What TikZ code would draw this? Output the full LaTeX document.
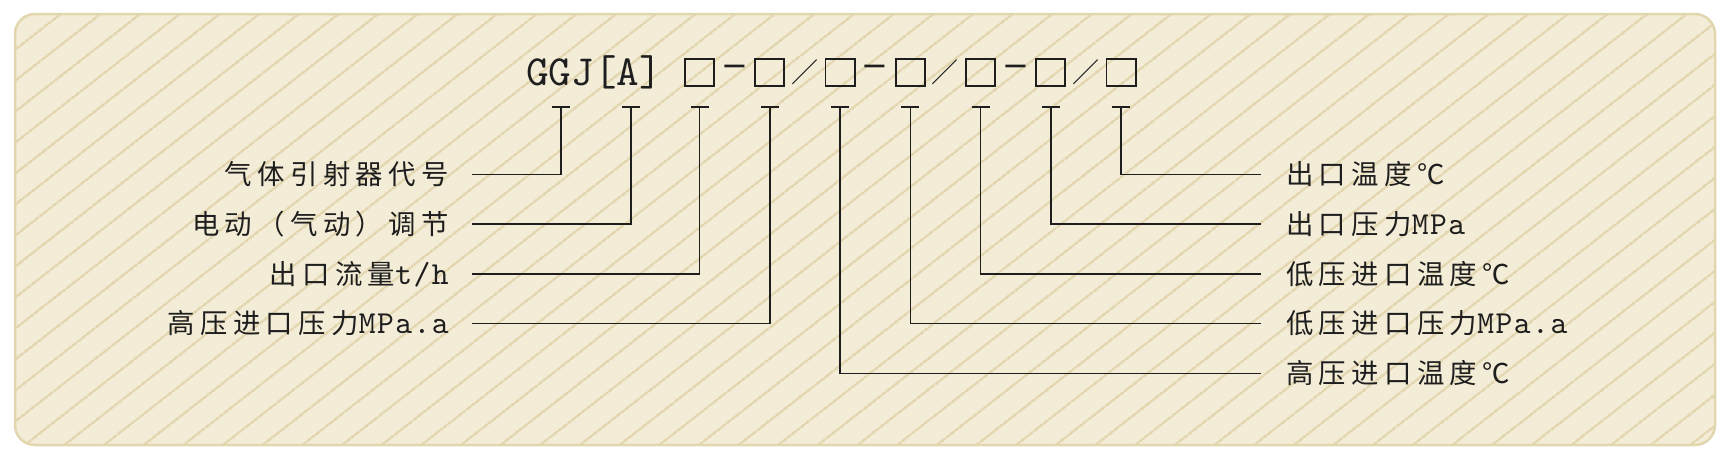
\documentclass[tikz,border=0pt]{standalone}
\usepackage{fontspec}
\usetikzlibrary{positioning,patterns.meta}
\newfontfamily\cjk[LetterSpace=19.5]{Noto Sans CJK SC}
\newfontfamily\latn[LetterSpace=4.7]{lmmono10-regular.otf}
\newfontfamily\codefont{lmmono10-regular.otf}
\newfontfamily\signfont{DejaVu Sans}
\definecolor{paper}{HTML}{F3ECD7}
\definecolor{hatch}{HTML}{E3D6AE}
\definecolor{frame}{HTML}{E2D6AF}
\definecolor{ink}{HTML}{1E1E1E}
\tikzset{
  code box/.style={draw=ink, line width=1.8pt, minimum width=29.2pt, minimum height=27pt, inner sep=0pt},
  code sep/.style={text=ink, inner sep=0pt},
  code dash/.style={code sep, font=\signfont\fontsize{32}{35}\selectfont, text height=0.72em, text depth=0pt},
  code slash/.style={code sep, font=\cjk\fontsize{27}{30}\selectfont},
  left label/.style={anchor=east, inner sep=0pt, text=ink, font=\cjk\fontsize{27.4}{30}\selectfont},
  right label/.style={left label, anchor=west},
  lead line/.style={draw=ink, line width=1.5pt},
}
\newcommand{\asc}[1]{{\latn\fontsize{32}{34}\selectfont #1}}

\begin{document}
\begin{tikzpicture}[x=1pt,y=-1pt]
    \useasboundingbox (0,0) rectangle (1729,459);

    % Background
    \fill[paper, rounded corners=20pt] (15,14) rectangle (1715,445);
    \fill[pattern={Lines[angle=38,distance=24.5pt,line width=2.5pt]}, pattern color=hatch, rounded corners=20pt] (15,14) rectangle (1715,445);
    \draw[frame, line width=2.5pt, rounded corners=20pt] (15,14) rectangle (1715,445);

    % Code
    \node[code box] (b1) at (699.5,72.5) {};
    \node[code box, right=39.25pt of b1] (b2) {};
    \node[code box, right=39.25pt of b2] (b3) {};
    \node[code box, right=39.25pt of b3] (b4) {};
    \node[code box, right=39.25pt of b4] (b5) {};
    \node[code box, right=39.25pt of b5] (b6) {};
    \node[code box, right=39.25pt of b6] (b7) {};
    \node[text=ink, inner sep=0pt, font=\codefont\fontsize{43}{46}\selectfont, left=22pt of b1] (code) {GGJ[A]};

    % Separators
    \path (b1) -- (b2) node[code dash, midway] (s1) {−};
    \path (b2) -- (b3) node[code slash, midway] (s2) {／};
    \path (b3) -- (b4) node[code dash, midway] (s3) {−};
    \path (b4) -- (b5) node[code slash, midway] (s4) {／};
    \path (b5) -- (b6) node[code dash, midway] (s5) {−};
    \path (b6) -- (b7) node[code slash, midway] (s6) {／};

    % Ticks
    \coordinate (k1) at (561,107);
    \coordinate (k2) at (631,107);
    \coordinate (k3) at (b1 |- k1);
    \coordinate (k4) at (b2 |- k1);
    \coordinate (k5) at (b3 |- k1);
    \coordinate (k6) at (b4 |- k1);
    \coordinate (k7) at (b5 |- k1);
    \coordinate (k8) at (b6 |- k1);
    \coordinate (k9) at (b7 |- k1);
    \draw[lead line] ([xshift=-9pt]k1) -- ([xshift=9pt]k1) ([xshift=-9pt]k2) -- ([xshift=9pt]k2)
        ([xshift=-9pt]k3) -- ([xshift=9pt]k3) ([xshift=-9pt]k4) -- ([xshift=9pt]k4)
        ([xshift=-9pt]k5) -- ([xshift=9pt]k5) ([xshift=-9pt]k6) -- ([xshift=9pt]k6)
        ([xshift=-9pt]k7) -- ([xshift=9pt]k7) ([xshift=-9pt]k8) -- ([xshift=9pt]k8)
        ([xshift=-9pt]k9) -- ([xshift=9pt]k9);

    % Labels
    \node[left label] (l1) at (449,174.5) {气体引射器代号};
    \node[left label] (l2) at (449,224) {电动（气动）调节};
    \node[left label] (l3) at (449,274) {出口流量\asc{t/h}};
    \node[left label] (l4) at (449,323.5) {高压进口压力\asc{MPa.a}};
    \node[right label] (r1) at (1286,174.5) {出口温度℃};
    \node[right label] (r2) at (1286,224) {出口压力\asc{MPa}};
    \node[right label] (r3) at (1286,274) {低压进口温度℃};
    \node[right label] (r4) at (1286,323.5) {低压进口压力\asc{MPa.a}};
    \node[right label] (r5) at (1286,373.5) {高压进口温度℃};

    % Leads
    \draw[lead line] (k1) |- ([xshift=22.5pt]l1.east);
    \draw[lead line] (k2) |- ([xshift=22.5pt]l2.east);
    \draw[lead line] (k3) |- ([xshift=22.5pt]l3.east);
    \draw[lead line] (k4) |- ([xshift=22.5pt]l4.east);
    \draw[lead line] (k5) |- ([xshift=-25pt]r5.west);
    \draw[lead line] (k6) |- ([xshift=-25pt]r4.west);
    \draw[lead line] (k7) |- ([xshift=-25pt]r3.west);
    \draw[lead line] (k8) |- ([xshift=-25pt]r2.west);
    \draw[lead line] (k9) |- ([xshift=-25pt]r1.west);
\end{tikzpicture}
\end{document}
